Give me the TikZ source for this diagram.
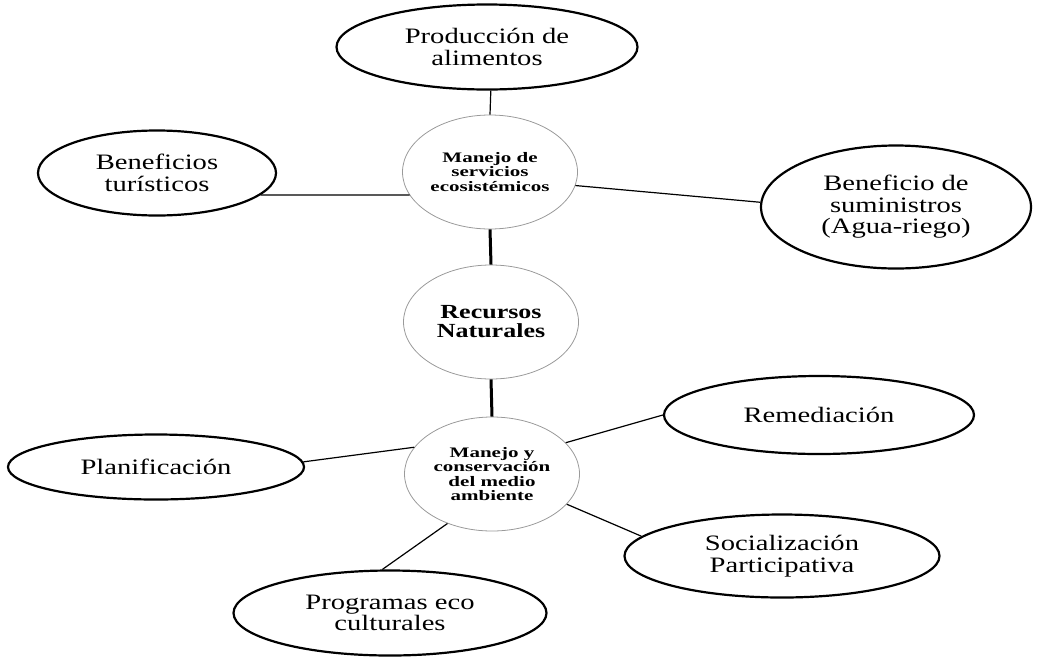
\documentclass[tikz,border=0pt]{standalone}
\usepackage{fontspec}
\setmainfont{Liberation Serif}[FakeStretch=1.3]
\newfontfamily\hubfont{Liberation Serif}[FakeStretch=1.45]
\usetikzlibrary{shapes.geometric}
\definecolor{rimgray}{HTML}{9A9A9A}

\begin{document}
\begin{tikzpicture}[x=1pt,y=-1pt,
    leaf node/.style={ellipse,draw,line width=2.2pt,inner sep=0pt,align=center,font=\fontsize{22}{21.5}\selectfont},
    hub node/.style={ellipse,draw=rimgray,line width=0.8pt,inner sep=0pt,minimum width=175pt,minimum height=114pt,align=center,font=\hubfont\bfseries\fontsize{14.5}{14.2}\selectfont}]
        \useasboundingbox (0, 0) rectangle (1051, 662);

        \node[hub node] at (490, 172) (serv) {Manejo de\\servicios\\ecosistémicos};
        \node[hub node, font=\bfseries\fontsize{20}{19}\selectfont] at (491, 322) (rec) {Recursos\\Naturales};
        \node[hub node] at (492, 474) (amb) {Manejo y\\conservación\\del medio\\ambiente};

        \node[leaf node, minimum width=301pt, minimum height=85pt] at (487, 47) (prod) {Producción de\\alimentos};
        \node[leaf node, minimum width=238pt, minimum height=85pt] at (157, 173) (tur) {Beneficios\\turísticos};
        \node[leaf node, minimum width=270pt, minimum height=123pt] at (896, 207) (sum) {Beneficio de\\suministros\\(Agua-riego)};
        \node[leaf node, minimum width=310pt, minimum height=78pt] at (819, 415) (rem) {Remediación};
        \node[leaf node, minimum width=296pt, minimum height=65pt] at (156, 467) (plan) {Planificación};
        \node[leaf node, minimum width=315pt, minimum height=83pt] at (782, 556) (soc) {Socialización\\Participativa};
        \node[leaf node, minimum width=313pt, minimum height=85pt] at (390, 613) (prog) {Programas eco\\culturales};

        \path[line width=1.2pt]
            (prod.-85) edge (serv.north)
            (tur.-12) edge (serv.196)
            (serv.-9) edge (sum.178)
            (amb.161) edge (plan.2)
            (amb.23) edge (rem.west)
            (amb.-22) edge (soc.172)
            (amb.-132) edge (prog.100)
            ;
        \path[line width=3pt]
            (serv.south) edge (rec.north)
            (rec.south) edge (amb.north)
            ;
        \end{tikzpicture}
\end{document}
